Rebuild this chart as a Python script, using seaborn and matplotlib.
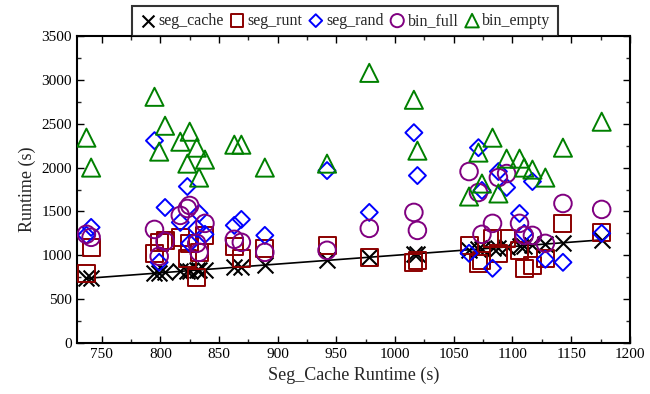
import matplotlib
matplotlib.use("Agg")
import matplotlib.pyplot as plt
from matplotlib.ticker import MultipleLocator
import seaborn as sns
import pandas as pd

# seg_cache runtime (x) for each run
seg_cache = [737, 741, 795, 799, 804, 817, 823, 825, 831, 833, 838, 863, 869, 889,
             942, 978, 1016, 1019, 1063, 1071, 1074, 1083, 1088, 1095, 1106, 1110,
             1117, 1128, 1143, 1176]
seg_runt = [795, 1091, 1023, 1148, 1170, 1205, 966, 1136, 750, 1034, 1227, 1102, 966, 1080,
            1114, 977, 920, 943, 1114, 909, 943, 1193, 1023, 1193, 1057, 852,
            886, 966, 1364, 1261]
seg_rand = [1230, 1318, 2307, 920, 1545, 1375, 1784, 1136, 1307, 1477, 1239, 1341, 1409, 1227,
            1966, 1489, 2398, 1909, 1023, 2227, 1739, 852, 1955, 1773, 1477, 1250,
            1841, 955, 920, 1250]
bin_full = [1240, 1205, 1295, 989, 1159, 1455, 1534, 1568, 1136, 1034, 1364, 1182, 1148, 1034,
            1057, 1307, 1489, 1284, 1955, 1716, 1239, 1364, 1886, 1932, 1364, 1227,
            1227, 1136, 1591, 1523]
bin_empty = [2341, 2000, 2807, 2182, 2477, 2295, 2045, 2409, 2227, 1886, 2091, 2261, 2261, 2000,
             2045, 3080, 2773, 2193, 1670, 2171, 1818, 2341, 1705, 2102, 2102, 2000,
             1977, 1886, 2227, 2523]

series_names = ["seg_cache", "seg_runt", "seg_rand", "bin_full", "bin_empty"]
series_vals = [seg_cache, seg_runt, seg_rand, bin_full, bin_empty]
colors = ["black", "#8b0000", "blue", "#800080", "#008000"]
markers = ["x", "s", "D", "o", "^"]
sizes = [130, 150, 75, 160, 170]

x_ticks = [750, 800, 850, 900, 950, 1000, 1050, 1100, 1150, 1200]
y_ticks = [0, 500, 1000, 1500, 2000, 2500, 3000, 3500]

sns.set_theme(style="ticks")
plt.rcParams["font.family"] = ["Liberation Serif", "DejaVu Serif"]
plt.rcParams["xtick.direction"] = "in"
plt.rcParams["ytick.direction"] = "in"
plt.rcParams["xtick.top"] = True
plt.rcParams["ytick.right"] = True

fig = plt.figure(figsize=(6.5, 3.94), dpi=100)
ax = fig.add_axes([0.1185, 0.1294, 0.8505, 0.7792])

df_line = pd.DataFrame({"x": seg_cache, "y": seg_cache})
sns.lineplot(data=df_line, x="x", y="y", color="black", lw=1.2, ax=ax,
             legend=False, label="_nolegend_", zorder=1)

for name, vals, c, m, s in zip(series_names, series_vals, colors, markers, sizes):
    d = pd.DataFrame({"x": seg_cache, "y": vals})
    if m == "x":
        sns.scatterplot(data=d, x="x", y="y", marker=m, s=s, color=c,
                        linewidth=1.5, ax=ax, label=name, zorder=3)
    else:
        sns.scatterplot(data=d, x="x", y="y", marker=m, s=s, facecolor="none",
                        edgecolor=c, linewidth=1.4, ax=ax, label=name, zorder=3)

ax.set_xlim(729, 1200)
ax.set_ylim(0, 3500)
ax.set_xticks(x_ticks)
ax.set_yticks(y_ticks)
ax.xaxis.set_minor_locator(MultipleLocator(25))
ax.yaxis.set_minor_locator(MultipleLocator(250))
ax.tick_params(which="major", length=5, width=1, labelsize=11, colors="black")
ax.tick_params(which="minor", length=3, width=1, top=True, right=True)
for sp in ax.spines.values():
    sp.set_linewidth(1.5)
    sp.set_color("black")
ax.set_xlabel("Seg_Cache Runtime (s)", fontsize=13)
ax.set_ylabel("Runtime (s)", fontsize=13)

leg = ax.legend(ncol=5, loc="lower center", bbox_to_anchor=(0.485, 1.0),
                borderaxespad=0, fancybox=False, frameon=True, fontsize=11.5,
                handletextpad=0.15, columnspacing=0.35, handlelength=1.0,
                borderpad=0.45, markerscale=0.75)
leg.get_frame().set_edgecolor("black")
leg.get_frame().set_linewidth(1.5)

fig.savefig("out.png", dpi=100)
